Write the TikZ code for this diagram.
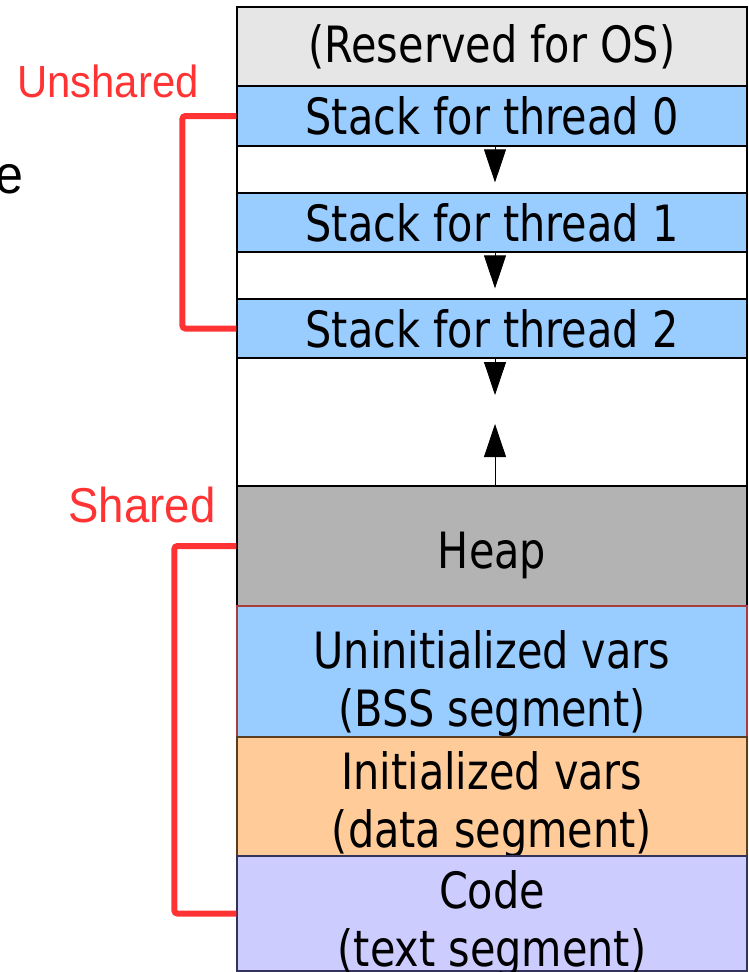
\documentclass[tikz,border=0pt]{standalone}
\usepackage{fontspec}
\usetikzlibrary{arrows.meta,positioning}
\newfontfamily\segfont[FakeStretch=0.92]{DejaVu Sans Condensed}
\newfontfamily\lblfont[FakeStretch=0.93]{Liberation Sans}
\definecolor{resgray}{HTML}{E6E6E6}
\definecolor{stackblue}{HTML}{99CCFF}
\definecolor{heapgray}{HTML}{B3B3B3}
\definecolor{dataorange}{HTML}{FFCC99}
\definecolor{codeviolet}{HTML}{CCCCFF}
\definecolor{lblred}{HTML}{FF3333}
% text of a segment, last baseline #1 below the middle of the box
\newcommand{\segtxt}[2]{\smash{\raisebox{-#1}{\begin{tabular}[b]{@{}c@{}}#2\end{tabular}}}}
\tikzset{
  seg/.style={draw=black, line width=1.2pt, rectangle, minimum width=510pt, inner sep=0pt, align=center, font=\segfont\fontsize{50}{58}\selectfont},
  freebox/.style={seg, fill=white},
  stk/.style={seg, fill=stackblue, minimum height=59pt},
  arr/.style={-{Triangle[length=33pt, width=22pt]}, line width=0.8pt, draw=black},
  brk/.style={draw=lblred, line width=6pt, rounded corners=3pt},
  lbl/.style={text=lblred, inner sep=0pt},
}

\begin{document}
\begin{tikzpicture}[x=1pt, y=-1pt]
\useasboundingbox (0,0) rectangle (748,972);
% address space, top to bottom
\node[seg, fill=resgray, minimum height=79pt] (res) at (492,46.5) {(Reserved for OS)};
\node[stk, minimum height=60pt] (st0) at (492,116) {Stack for thread 0};
\node[freebox, minimum height=47pt] (gap0) at (492,169.5) {};
\node[stk] (st1) at (492,222.5) {Stack for thread 1};
\node[freebox, minimum height=47pt] (gap1) at (492,275.5) {};
\node[stk] (st2) at (492,328.5) {Stack for thread 2};
\node[freebox, minimum height=128pt] (gap2) at (492,422) {};
\node[seg, fill=heapgray, minimum height=120pt] (heap) at (492,546) {\segtxt{22pt}{Heap}};
\node[seg, fill=stackblue, draw={rgb,255:red,170;green,60;blue,60}, minimum height=131pt] (bss) at (492,671.5) {\segtxt{55pt}{Uninitialized vars\\(BSS segment)}};
\node[seg, fill=dataorange, draw={rgb,255:red,90;green,60;blue,30}, minimum height=119pt] (data) at (492,796.5) {\segtxt{50.5pt}{Initialized vars\\(data segment)}};
\node[seg, fill=codeviolet, draw={rgb,255:red,50;green,50;blue,90}, minimum height=115pt] (code) at (492,913.5) {\segtxt{52.5pt}{Code\\(text segment)}};
\coordinate (stkend) at (495,395);
\coordinate (heapend) at (495,424);
% growth arrows
\draw[arr] ([xshift=3pt]st0.south) -- ([xshift=3pt, yshift=10pt]st1.north);
\draw[arr] ([xshift=3pt]st1.south) -- ([xshift=3pt, yshift=10pt]st2.north);
\draw[arr] ([xshift=3pt]st2.south) -- (stkend);
\draw[arr] ([xshift=3pt]heap.north) -- (heapend);
% brackets
\draw[brk] (st0.west) -- ++(-54,0) |- (st2.west);
\draw[brk] (heap.west) -- ++(-62,0) |- (code.west);
\node[lbl, font=\lblfont\fontsize{45}{54}\selectfont] (unsh) at (108,81) {Unshared};
\node[lbl, font=\lblfont\fontsize{49}{58}\selectfont] (sh) at (142,504.5) {Shared};
\node[inner sep=0pt, anchor=base east, font=\lblfont\fontsize{54}{64}\selectfont] (ecut) at (24,193) {e};
\end{tikzpicture}
\end{document}
